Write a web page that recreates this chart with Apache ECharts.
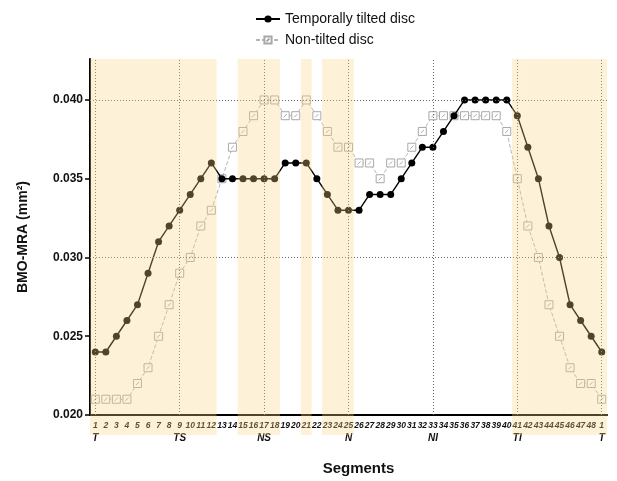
<!DOCTYPE html>
<html>
<head>
<meta charset="utf-8">
<script src="https://cdn.jsdelivr.net/npm/echarts@6/dist/echarts.min.js"></script>
<style>
html,body{margin:0;padding:0;background:#fff;}
#chart{width:617px;height:481px;}
</style>
</head>
<body>
<div id="chart"></div>
<script>
// Segment labels along the x axis (48 segments, back to 1)
var segments = [1,2,3,4,5,6,7,8,9,10,11,12,13,14,15,16,17,18,19,20,21,22,23,24,25,26,27,28,29,30,31,32,33,34,35,36,37,38,39,40,41,42,43,44,45,46,47,48,1];
// Region labels under specific segment positions
var regionIdx = [0, 8, 16, 24, 32, 40, 48];
var regionNames = ['T', 'TS', 'NS', 'N', 'NI', 'TI', 'T'];
// Series values
var tilted = [0.024,0.024,0.025,0.026,0.027,0.029,0.031,0.032,0.033,0.034,0.035,0.036,
  0.035,0.035,0.035,0.035,0.035,0.035,0.036,0.036,0.036,0.035,0.034,0.033,0.033,
  0.033,0.034,0.034,0.034,0.035,0.036,0.037,0.037,0.038,0.039,0.040,0.040,0.040,0.040,0.040,
  0.039,0.037,0.035,0.032,0.030,0.027,0.026,0.025,0.024];
var nonTilted = [0.021,0.021,0.021,0.021,0.022,0.023,0.025,0.027,0.029,0.030,0.032,0.033,
  0.035,0.037,0.038,0.039,0.040,0.040,0.039,0.039,0.040,0.039,0.038,0.037,0.037,
  0.036,0.036,0.035,0.036,0.036,0.037,0.038,0.039,0.039,0.039,0.039,0.039,0.039,0.039,0.038,
  0.035,0.032,0.030,0.027,0.025,0.023,0.022,0.022,0.021];
// Shaded segment positions (indices into segments)
var shaded = [0,1,2,3,4,5,6,7,8,9,10,11,14,15,16,17,20,22,23,24,40,41,42,43,44,45,46,47,48];
// Y axis ticks / grid lines
var yMin = 0.020, yMax = 0.0426, yStep = 0.005;
var yGrid = [0.025, 0.030, 0.035, 0.040];

var cats = segments.map(function(s, i){ return String(i); });
var bandData = segments.map(function(s, i){ return shaded.indexOf(i) >= 0 ? 1 : '-'; });

var chart = echarts.init(document.getElementById('chart'), null, {renderer: 'canvas'});
var dotted = {color: '#666', type: [1, 2], width: 1};

var option = {
  animation: false,
  backgroundColor: '#fff',
  legend: {
    orient: 'vertical',
    left: 250, top: 7,
    itemWidth: 24, itemHeight: 9, itemGap: 7,
    textStyle: {fontFamily: 'Liberation Sans, Arial', fontSize: 14, color: '#111'},
    data: ['Temporally tilted disc', 'Non-tilted disc']
  },
  grid: [
    {left: 90, right: 10, top: 59, bottom: 63, containLabel: false},
    {left: 90, right: 10, top: 59, bottom: 46, containLabel: false}
  ],
  xAxis: [{
    type: 'category', gridIndex: 0, data: cats, boundaryGap: true,
    name: 'Segments', nameLocation: 'middle', nameGap: 46,
    nameTextStyle: {fontFamily: 'Liberation Sans, Arial', fontWeight: 'bold', fontSize: 15, color: '#111', padding: [0,0,0,20]},
    axisLine: {lineStyle: {color: '#000', width: 2}},
    axisTick: {alignWithLabel: true, interval: 0, length: 5, lineStyle: {color: '#000', width: 1.5}},
    splitLine: {show: false},
    axisLabel: {
      interval: 0, margin: 5, hideOverlap: false,
      formatter: function(v, i){
        var k = regionIdx.indexOf(i);
        return '{n|' + segments[i] + '}\n{r|' + (k >= 0 ? regionNames[k] : ' ') + '}';
      },
      rich: {
        n: {fontFamily: 'Liberation Sans, Arial', fontStyle: 'italic', fontWeight: 'bold', fontSize: 8.5, color: '#111', lineHeight: 11},
        r: {fontFamily: 'Liberation Sans, Arial', fontStyle: 'italic', fontWeight: 'bold', fontSize: 10, color: '#111', lineHeight: 14}
      }
    }
  }, {
    type: 'category', gridIndex: 1, data: cats, boundaryGap: true, show: false
  }],
  yAxis: [{
    type: 'value', gridIndex: 0, min: yMin, max: yMax, interval: yStep,
    name: 'BMO-MRA (mm²)', nameLocation: 'middle', nameGap: 60,
    nameTextStyle: {fontFamily: 'Liberation Sans, Arial', fontWeight: 'bold', fontSize: 14, color: '#111'},
    axisLine: {show: true, lineStyle: {color: '#000', width: 2}},
    axisTick: {show: true, length: 5, lineStyle: {color: '#000', width: 1.5}},
    splitLine: {show: false},
    axisLabel: {
      showMaxLabel: false, margin: 7,
      fontFamily: 'Liberation Sans, Arial', fontWeight: 'bold', fontSize: 12, color: '#111',
      formatter: function(v){ return v.toFixed(3); }
    }
  }, {
    type: 'value', gridIndex: 1, min: 0, max: 1, show: false
  }],
  series: [{
    name: 'Temporally tilted disc', type: 'line', xAxisIndex: 0, yAxisIndex: 0,
    data: tilted, showAllSymbol: true, symbol: 'circle', symbolSize: 7,
    lineStyle: {color: '#000', width: 1.4},
    itemStyle: {color: '#000'},
    z: 4,
    markLine: {
      silent: true, symbol: 'none', label: {show: false}, animation: false,
      lineStyle: dotted,
      data: yGrid.map(function(y){ return {yAxis: y}; }).concat(
        regionIdx.map(function(i){ return {xAxis: i}; }))
    }
  }, {
    name: 'Non-tilted disc', type: 'line', xAxisIndex: 0, yAxisIndex: 0,
    data: nonTilted, showAllSymbol: true,
    symbol: 'path://M0,0L10,0L10,10L0,10Z M3,7L7,3', symbolSize: 8,
    lineStyle: {color: '#b4b4b4', width: 1, type: [4, 2]},
    itemStyle: {color: '#fff', borderColor: '#a8a8a8', borderWidth: 1},
    z: 3
  }, {
    name: 'bands', type: 'bar', xAxisIndex: 1, yAxisIndex: 1,
    data: bandData, barWidth: '100%', barCategoryGap: '0%', silent: true,
    itemStyle: {color: 'rgba(248,212,135,0.32)'},
    z: 20
  }]
};
chart.setOption(option);
</script>
</body>
</html>
